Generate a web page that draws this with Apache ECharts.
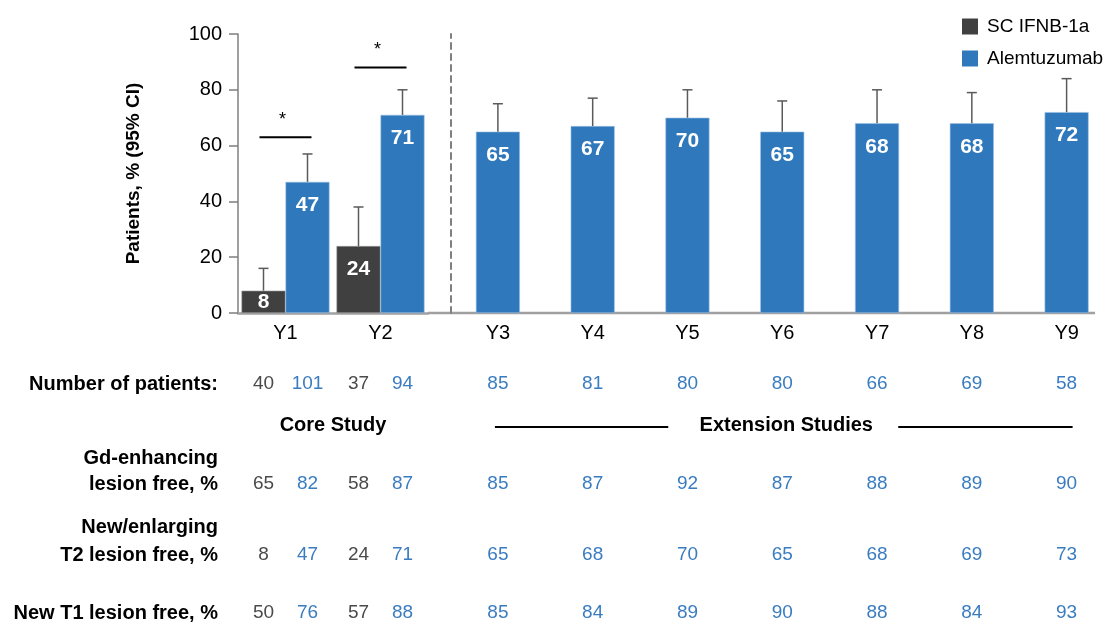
<!DOCTYPE html>
<html>
<head>
<meta charset="utf-8">
<script src="https://cdn.jsdelivr.net/npm/echarts@6/dist/echarts.min.js"></script>
<style>
html, body { margin: 0; padding: 0; background: #fff; }
#main { width: 1114px; height: 630px; }
</style>
</head>
<body>
<div id="main"></div>
<script>
// ---- data ----
var coreYears = ['Y1', 'Y2'];
var extYears = ['Y3', 'Y4', 'Y5', 'Y6', 'Y7', 'Y8', 'Y9'];

var ifnbValue = [8, 24];
var ifnbUpper = [16, 38];
var alemCoreValue = [47, 71];
var alemCoreUpper = [57, 80];
var alemExtValue = [65, 67, 70, 65, 68, 68, 72];
var alemExtUpper = [75, 77, 80, 76, 80, 79, 84];
var sigLevel = [63, 88];   // height of the "*" bracket in Y1, Y2

var ifnbPatients = [40, 37];
var alemPatients = [101, 94, 85, 81, 80, 80, 66, 69, 58];
var ifnbGd = [65, 58];
var alemGd = [82, 87, 85, 87, 92, 87, 88, 89, 90];
var ifnbT2 = [8, 24];
var alemT2 = [47, 71, 65, 68, 70, 65, 68, 69, 73];
var ifnbT1 = [50, 57];
var alemT1 = [76, 88, 85, 84, 89, 90, 88, 84, 93];

// ---- style ----
var FONT = 'Liberation Sans, Arial, sans-serif';
var GREY = '#404040';
var BLUE = '#2e78bb';
var BAR_W = 44;

var myChart = echarts.init(document.getElementById('main'));

function barLabel() {
    return {
        show: true,
        position: 'insideTop',
        distance: 13,
        color: '#fff',
        fontSize: 21,
        fontWeight: 'bold',
        fontFamily: FONT
    };
}

function barData(values) {
    return values.map(function (v) {
        if (v < 15) {
            return { value: v, label: { position: 'insideBottom', distance: 0 } };
        }
        return v;
    });
}

function errorSeries(axisIdx, values, uppers, shift) {
    return {
        type: 'custom',
        name: 'ci',
        xAxisIndex: axisIdx,
        yAxisIndex: axisIdx,
        z: 5,
        silent: true,
        data: values.map(function (v, i) { return [i, v, uppers[i]]; }),
        renderItem: function (params, api) {
            var base = api.coord([api.value(0), api.value(1)]);
            var top = api.coord([api.value(0), api.value(2)]);
            var x = base[0] + shift;
            var st = { stroke: '#5a5a5a', lineWidth: 1.5 };
            return {
                type: 'group',
                children: [
                    { type: 'line', shape: { x1: x, y1: base[1], x2: x, y2: top[1] }, style: st },
                    { type: 'line', shape: { x1: x - 5, y1: top[1], x2: x + 5, y2: top[1] }, style: st }
                ]
            };
        }
    };
}

var option = {
    backgroundColor: '#fff',
    animation: false,
    textStyle: { fontFamily: FONT },
    legend: {
        data: ['SC IFNB-1a', 'Alemtuzumab'],
        orient: 'vertical',
        left: 957,
        top: 12,
        itemWidth: 16,
        itemHeight: 16,
        itemGap: 13,
        icon: 'rect',
        itemStyle: { borderWidth: 0 },
        textStyle: { fontSize: 19, color: '#000', fontFamily: FONT, padding: [0, 0, 0, 4] }
    },
    grid: [
        { left: 238, top: 34, width: 190, height: 279 },
        { left: 450.5, top: 34, width: 667, height: 279 }
    ],
    xAxis: [
        {
            type: 'category', gridIndex: 0, data: coreYears,
            axisTick: { show: false },
            axisLine: { lineStyle: { color: '#a0a0a0', width: 2.5 } },
            axisLabel: { fontSize: 20, color: '#000', margin: 10, fontFamily: FONT }
        },
        {
            type: 'category', gridIndex: 1, data: extYears,
            axisTick: { show: false },
            axisLine: { show: false },
            axisLabel: { fontSize: 20, color: '#000', margin: 10, fontFamily: FONT }
        }
    ],
    yAxis: [
        {
            type: 'value', gridIndex: 0, min: 0, max: 100, interval: 20,
            name: 'Patients, % (95% CI)',
            nameLocation: 'middle',
            nameGap: 95,
            nameTextStyle: { fontSize: 19, fontWeight: 'bold', color: '#000', fontFamily: FONT },
            axisLine: { show: true, lineStyle: { color: '#7f7f7f', width: 1.5 } },
            axisTick: { show: true, length: 9, lineStyle: { color: '#7f7f7f', width: 1.5 } },
            axisLabel: { fontSize: 20, color: '#000', margin: 16, fontFamily: FONT },
            splitLine: { show: false }
        },
        {
            type: 'value', gridIndex: 1, min: 0, max: 100, interval: 20,
            axisLine: { show: true, lineStyle: { color: '#7f7f7f', width: 2, type: [6, 5] } },
            axisTick: { show: false },
            axisLabel: { show: false },
            splitLine: { show: false }
        }
    ],
    series: [
        {
            name: 'SC IFNB-1a', type: 'bar', xAxisIndex: 0, yAxisIndex: 0,
            data: barData(ifnbValue), barWidth: BAR_W, barGap: '0%',
            itemStyle: { color: GREY, borderColor: '#9a9a9a', borderWidth: 0.6 },
            label: barLabel()
        },
        {
            name: 'Alemtuzumab', type: 'bar', xAxisIndex: 0, yAxisIndex: 0,
            data: barData(alemCoreValue), barWidth: BAR_W, barGap: '0%',
            itemStyle: { color: BLUE, borderColor: '#9cc0e4', borderWidth: 0.6 },
            label: barLabel()
        },
        {
            name: 'Alemtuzumab', type: 'bar', xAxisIndex: 1, yAxisIndex: 1,
            data: barData(alemExtValue), barWidth: BAR_W,
            itemStyle: { color: BLUE, borderColor: '#9cc0e4', borderWidth: 0.6 },
            label: barLabel()
        },
        errorSeries(0, ifnbValue, ifnbUpper, -BAR_W / 2),
        errorSeries(0, alemCoreValue, alemCoreUpper, BAR_W / 2),
        errorSeries(1, alemExtValue, alemExtUpper, 0)
    ]
};

myChart.setOption(option);

// ---- annotations and the table under the chart ----
function colX(i, offset) {
    if (i < coreYears.length) {
        return myChart.convertToPixel({ xAxisIndex: 0 }, coreYears[i]) + offset;
    }
    return myChart.convertToPixel({ xAxisIndex: 1 }, extYears[i - coreYears.length]);
}

function txt(x, y, text, opt) {
    opt = opt || {};
    return {
        type: 'text', x: x, y: y, silent: true,
        style: {
            text: text,
            fill: opt.color || '#000',
            font: (opt.bold ? 'bold ' : '') + (opt.size || 19) + 'px ' + FONT,
            align: opt.align || 'center',
            verticalAlign: 'middle',
            lineHeight: opt.lineHeight
        }
    };
}

function hline(x1, x2, y, color, width) {
    return {
        type: 'line', silent: true,
        shape: { x1: x1, y1: y, x2: x2, y2: y },
        style: { stroke: color, lineWidth: width }
    };
}

var graphics = [];

// x axis line continues under the extension studies
var axisY = myChart.convertToPixel({ yAxisIndex: 0 }, 0);
graphics.push(hline(428, 1095, axisY, '#a0a0a0', 2.5));

// significance brackets
for (var s = 0; s < coreYears.length; s++) {
    var p = myChart.convertToPixel({ gridIndex: 0 }, [coreYears[s], sigLevel[s]]);
    graphics.push(hline(p[0] - 26, p[0] + 26, p[1], '#000', 2));
    graphics.push(txt(p[0] - 3, p[1] - 17, '*', { size: 18 }));
}

var tableRows = [
    { label: 'Number of patients:', y: 384, lh: 0, ifnb: ifnbPatients, alem: alemPatients },
    { label: 'Gd-enhancing\nlesion free, %', y: 484, lh: 26, ifnb: ifnbGd, alem: alemGd },
    { label: 'New/enlarging\nT2 lesion free, %', y: 555, lh: 28, ifnb: ifnbT2, alem: alemT2 },
    { label: 'New T1 lesion free, %', y: 613, lh: 0, ifnb: ifnbT1, alem: alemT1 }
];

tableRows.forEach(function (row) {
    var labelY = row.lh ? row.y - row.lh / 2 : row.y;
    graphics.push(txt(218, labelY, row.label, { bold: true, size: 20, align: 'right', lineHeight: row.lh || undefined }));
    row.ifnb.forEach(function (v, i) {
        graphics.push(txt(colX(i, -BAR_W / 2), row.y, String(v), { color: '#4a4a4a' }));
    });
    row.alem.forEach(function (v, i) {
        graphics.push(txt(colX(i, BAR_W / 2), row.y, String(v), { color: '#3a7cc0' }));
    });
});

// study headers
var coreMid = (colX(0, 0) + colX(1, 0)) / 2;
graphics.push(txt(coreMid, 425, 'Core Study', { bold: true, size: 20 }));
var extL = colX(2, 0), extR = colX(coreYears.length + extYears.length - 1, 0);
var extMid = (extL + extR) / 2 + 4;
graphics.push(txt(extMid, 425, 'Extension Studies', { bold: true, size: 20 }));
graphics.push(hline(extL - 3, extMid - 118, 427, '#000', 2));
graphics.push(hline(extMid + 112, extR + 6, 427, '#000', 2));

myChart.setOption({ graphic: graphics });
</script>
</body>
</html>
